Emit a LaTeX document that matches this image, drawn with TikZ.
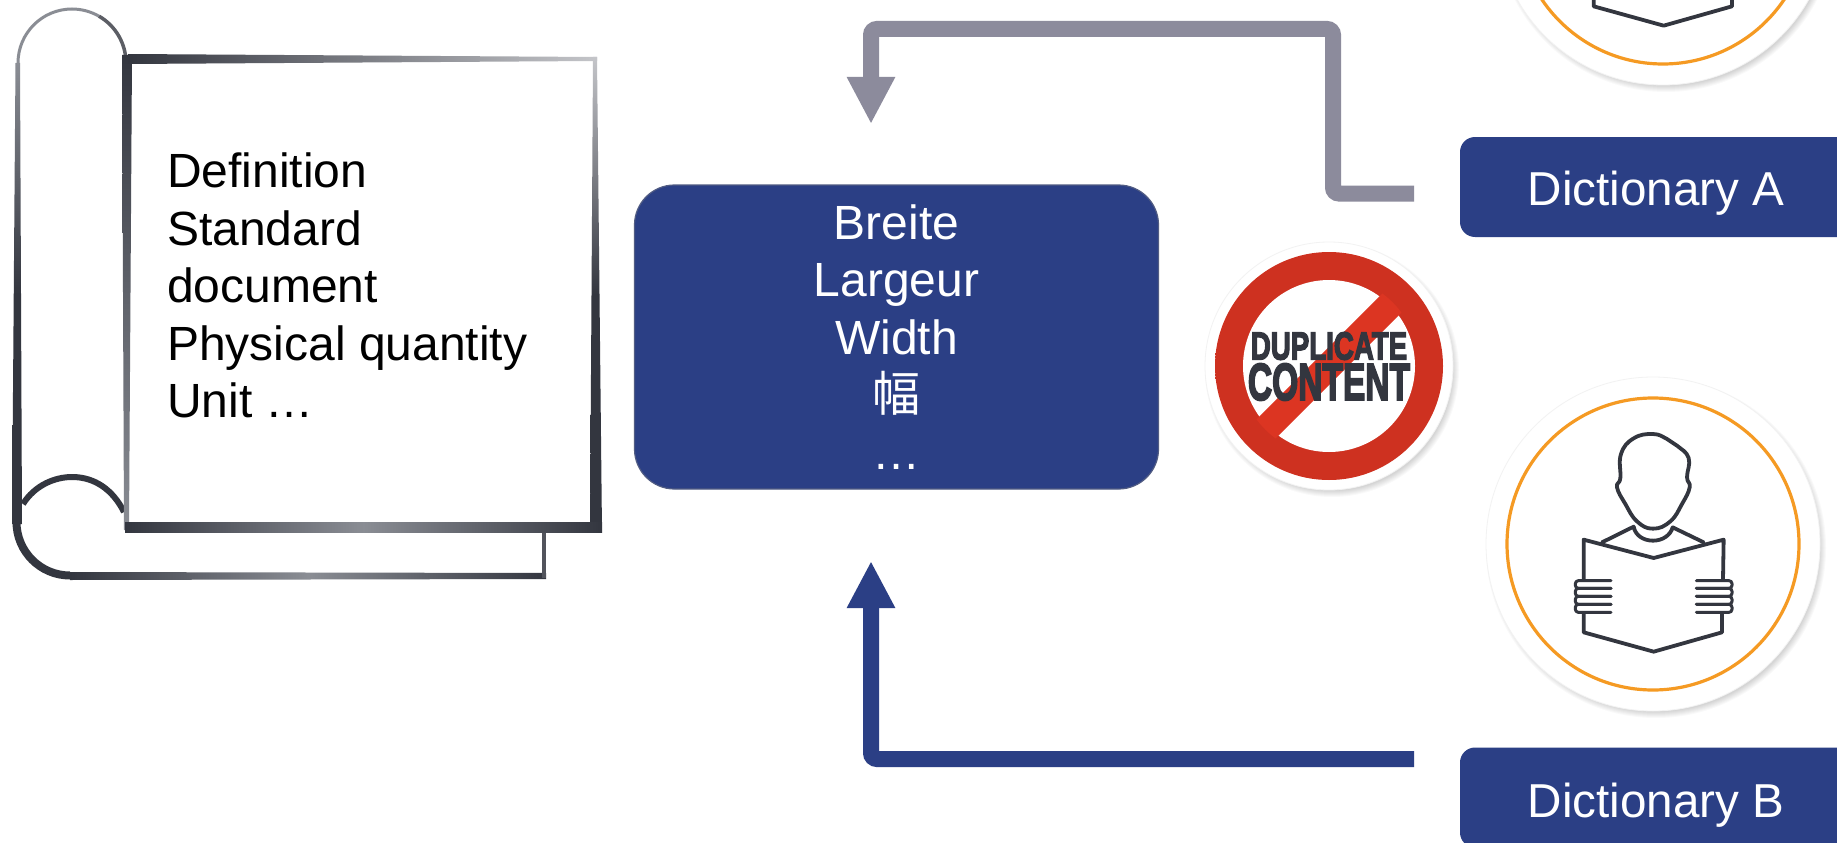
\documentclass[tikz,border=0pt]{standalone}
\usepackage{fontspec}
\setmainfont{Liberation Sans}
\newfontfamily\cjkfont{Noto Sans CJK SC}
\newfontfamily\heavyfont[FakeBold=4]{Liberation Sans Bold}
\usetikzlibrary{arrows.meta}
\definecolor{navy}{HTML}{2B3F85}
\definecolor{arrowgray}{HTML}{8C8B9C}
\definecolor{ink}{HTML}{33363F}
\definecolor{midgray}{HTML}{8A8D94}
\definecolor{palegray}{HTML}{C4C5C9}
\definecolor{signred}{HTML}{DC3522}
\definecolor{signdark}{HTML}{CE3120}
\definecolor{ringorange}{HTML}{F59A23}
\pgfdeclareradialshading{ringshade}{\pgfpoint{0bp}{0bp}}{%
  color(0bp)=(signdark); color(37bp)=(signdark); color(40bp)=(signred); color(48bp)=(signred); color(50bp)=(signdark); color(70bp)=(signdark)}
\tikzset{
  labelbox/.style={fill=navy,rounded corners=15pt,minimum width=392pt,minimum height=100pt,inner sep=0pt,text=white,font=\fontsize{47.6}{58}\selectfont},
  mainbox/.style={fill=navy,draw=navy!55!gray,line width=1.2pt,rounded corners=40pt,minimum width=524pt,minimum height=304pt,inner sep=0pt,text=white,align=center,font=\fontsize{48}{57.6}\selectfont},
  flow/.style={line width=16pt,rounded corners=6pt,-{Triangle[length=47pt,width=45pt]}},
  iconline/.style={draw=ink,line width=3.8pt,line join=round,line cap=round},
  scrolltext/.style={inner sep=0pt,anchor=north west,align=left,font=\fontsize{48}{57.6}\selectfont},
  signtext/.style={inner sep=0pt,text=ink,transform shape}
}
\newcommand{\softshadow}[3]{%
  \foreach \d in {0,1,...,6}{\fill[black,opacity=.024] (#1+3,#2+4) circle ({#3+\d-3});}
  \fill[white] (#1,#2) circle (#3);
  \draw[black!5,line width=.8pt] (#1,#2) circle (#3);
}
\newcommand{\readerat}[2]{%
  \softshadow{#1}{#2}{167}
  \draw[ringorange,line width=3.2pt] (#1,#2) circle (146);
  \begin{scope}[shift={(#1,#2)},x=.33333pt,y=-.33333pt,shift={(-548,-520)}]
    \draw[iconline] plot[smooth cycle,tension=.75] coordinates {(548,190) (490,203) (452,250) (450,322) (440,350) (465,400) (500,452) (548,474) (600,452) (635,400) (658,350) (650,320) (655,262) (620,225) (590,205)};
    \draw[iconline] (395,515) -- (490,468) .. controls (495,495) and (520,510) .. (548,510) .. controls (575,510) and (600,495) .. (607,470) -- (700,515);
    \draw[iconline] (340,625) -- (340,507) -- (550,562) -- (760,507) -- (758,625);
    \draw[iconline] (340,725) -- (340,785) -- (550,843) -- (755,785) -- (755,725);
    \foreach \a/\b in {315/422,785/678}{
      \foreach \yy/\yz in {630/653,653/677,677/701,701/725}{
        \draw[iconline,fill=white,rounded corners=3pt,line width=3pt] (\b,\yy) -- (\a,\yy) -- (\a,\yz) -- (\b,\yz);
      }
    }
  \end{scope}
}
\begin{document}
\begin{tikzpicture}[x=1pt,y=-1pt]
\useasboundingbox (0,0) rectangle (1837,843);
\fill[white] (0,0) rectangle (1837,843);

% scroll
\fill[white] (128,60) rectangle (595,526);
\draw[midgray,line width=3pt] (18,63) arc[start angle=180,end angle=300,radius=54];
\draw[ink!80!white,line width=3.5pt] (99,16.2) arc[start angle=300,end angle=360,radius=54];
\shade[top color=midgray,bottom color=ink,middle color=ink] (15.5,63) -- (20,63) -- (22,524) -- (12,524) -- cycle;
\draw[ink,line width=8pt] (16.5,522) arc[start angle=180,end angle=90,radius=53.5];
\shade[left color=ink,right color=ink,middle color=midgray] (70,572) -- (546,573) -- (546,579) -- (70,580) -- cycle;
\draw[ink!85!white,line width=4pt] (544,528) -- (544,578);
\draw[ink,line width=6pt] (23,504) .. controls (35,485) and (55,477) .. (72,477) .. controls (95,477) and (113,490) .. (124,512);
\shade[top color=ink,bottom color=midgray] (122,55) -- (132,55) -- (129,530) -- (124,530) -- cycle;
\shade[left color=ink,right color=palegray] (128,54) -- (597,57) -- (597,61) -- (128,64) -- cycle;
\shade[top color=palegray,bottom color=ink,middle color=ink] (593,57) -- (597,57) -- (602,532) -- (590,532) -- cycle;
\shade[left color=ink,right color=ink,middle color=midgray] (125,522) -- (602,522) -- (602,532) -- (125,532) -- cycle;
\node[scrolltext] (scroll) at (167,152.5) {Definition\\Standard\\document\\Physical quantity\\Unit …};

% main box and arrows
\node[mainbox] (main) at (896.5,337) {Breite\\Largeur\\Width\\{\cjkfont 幅}\\…};
\node[labelbox] (dicta) at (1656,187) {\raisebox{-18pt}[0pt][0pt]{Dictionary A}};
\node[labelbox] (dictb) at (1656,797.5) {\raisebox{-20pt}[0pt][0pt]{Dictionary B}};
\coordinate (ga) at (1414,193.5);
\coordinate (gb) at (1333,193.5);
\coordinate (gc) at (1333,29);
\coordinate (gd) at (871,29);
\coordinate (ge) at (871,124);
\coordinate (ba) at (1414,759);
\coordinate (bb) at (871,759);
\coordinate (bc) at (871,561);
\draw[flow,arrowgray] (ga) -- (gb) -- (gc) -- (gd) -- (ge);
\draw[flow,navy] (ba) -- (bb) -- (bc);

% no duplicate sign
\softshadow{1329}{366}{124}
\shade[shading=ringshade] (1329,366) circle (114);
\fill[white] (1329,366) circle (86);
\begin{scope}
  \clip (1329,366) circle (90);
  \draw[signred,line width=27pt] (1229,466) -- (1429,266);
\end{scope}
\node[signtext,xscale=.71,font=\fontsize{39}{39}\heavyfont] (dup) at (1329,346) {DUPLICATE};
\node[signtext,xscale=.645,font=\fontsize{52}{52}\heavyfont] (con) at (1329,382) {CONTENT};

% readers
\readerat{1663}{-82}
\readerat{1653}{544}
\end{tikzpicture}
\end{document}
